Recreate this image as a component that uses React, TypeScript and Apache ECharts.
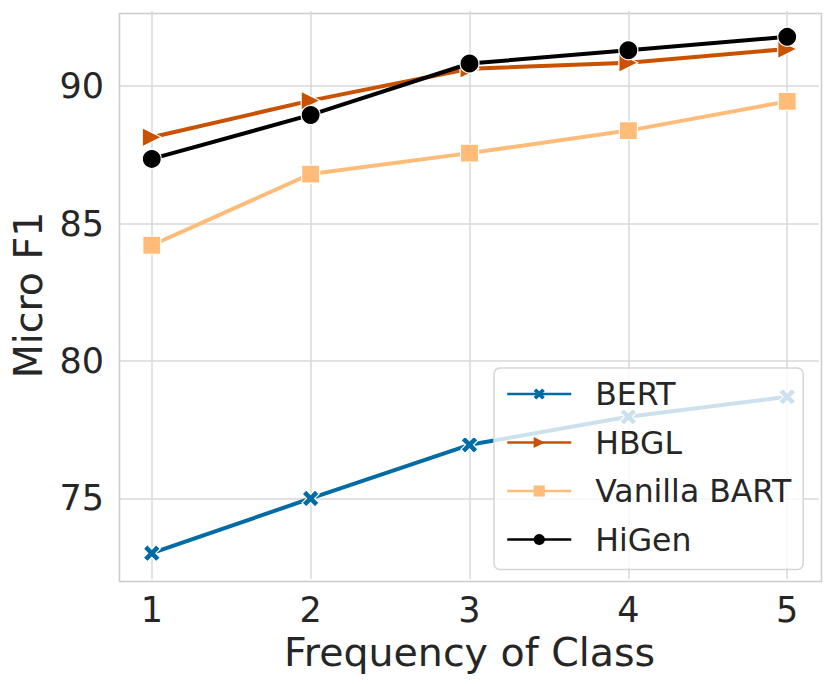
import React, { useEffect, useRef } from "react";
import * as echarts from "echarts";

const xValues = [1, 2, 3, 4, 5];
const xTicks = [1, 2, 3, 4, 5];
const yTicks = [75, 80, 85, 90];
const seriesNames = ["BERT", "HBGL", "Vanilla BART", "HiGen"];
const bert = [73.01, 75.0, 76.95, 77.97, 78.7];
const hbgl = [88.14, 89.47, 90.63, 90.85, 91.35];
const vanillaBart = [84.21, 86.8, 87.56, 88.38, 89.44];
const higen = [87.35, 88.95, 90.82, 91.3, 91.79];

const colors = ["#006BA4", "#C85200", "#FFBC79", "#000000"];
const X_PATH = "path://M0,2.4 L2.4,0 L5,2.6 L7.6,0 L10,2.4 L7.4,5 L10,7.6 L7.6,10 L5,7.4 L2.4,10 L0,7.6 L2.6,5 Z";
const TRI_PATH = "path://M0,0 L10,5 L0,10 Z";
const symbols = [X_PATH, TRI_PATH, "rect", "circle"];
const symbolSizes = [17, 19, 18, 19];
const FONT = "DejaVu Sans";
const TEXT = "#262626";

export default function App() {
  const ref = useRef<HTMLDivElement>(null);
  useEffect(() => {
    if (!ref.current) return;
    const chart = echarts.init(ref.current, undefined, { renderer: "svg" });
    const all = [bert, hbgl, vanillaBart, higen];
    chart.setOption({
      animation: false,
      backgroundColor: "#ffffff",
      grid: { left: 117, right: 11, top: 11, bottom: 105 },
      xAxis: {
        type: "value",
        min: 0.8,
        max: 5.2,
        name: "Frequency of Class",
        nameLocation: "middle",
        nameGap: 52,
        nameTextStyle: { fontFamily: FONT, fontSize: 39.5, color: TEXT },
        axisLine: { show: false },
        axisTick: { show: false, customValues: xTicks },
        axisLabel: {
          customValues: xTicks,
          fontFamily: FONT,
          fontSize: 35,
          color: TEXT,
          margin: 13,
        },
        splitLine: { show: true, lineStyle: { color: "#d9d9d9", width: 1.5 } },
      },
      yAxis: {
        type: "value",
        min: 72.07,
        max: 92.73,
        name: "Micro F1",
        nameLocation: "middle",
        nameGap: 72,
        nameTextStyle: { fontFamily: FONT, fontSize: 39.5, color: TEXT },
        axisLine: { show: false },
        axisTick: { show: false, customValues: yTicks },
        axisLabel: {
          customValues: yTicks,
          fontFamily: FONT,
          fontSize: 35,
          color: TEXT,
          margin: 16,
        },
        splitLine: { show: true, lineStyle: { color: "#d9d9d9", width: 1.5 } },
      },
      legend: {
        orient: "vertical",
        left: 494,
        top: 368,
        padding: [10, 12, 14, 12],
        itemGap: 16.5,
        itemWidth: 64,
        itemHeight: 14,
        backgroundColor: "rgba(255,255,255,0.8)",
        borderColor: "#d5d5d5",
        borderWidth: 1.5,
        borderRadius: 6,
        lineStyle: { width: 2.5 },
        itemStyle: { borderWidth: 0 },
        textStyle: {
          fontFamily: FONT,
          fontSize: 31.5,
          lineHeight: 30,
          color: TEXT,
          padding: [0, 0, 0, 19],
        },
        data: seriesNames,
      },
      graphic: [
        {
          type: "rect",
          left: 117,
          top: 11,
          shape: { width: 702, height: 568 },
          style: { fill: "none", stroke: "#cccccc", lineWidth: 1.5 },
          silent: true,
          z: 0,
        },
      ],
      series: seriesNames.map((name, i) => ({
        name,
        type: "line",
        data: xValues.map((x, j) => [x, all[i][j]]),
        symbol: symbols[i],
        symbolSize: symbolSizes[i],
        symbolKeepAspect: true,
        showAllSymbol: true,
        color: colors[i],
        lineStyle: { width: 4, color: colors[i] },
        itemStyle: { color: colors[i], borderColor: "#ffffff", borderWidth: 1.2 },
        z: 2 + i,
      })),
    });
    return () => chart.dispose();
  }, []);
  return <div ref={ref} style={{ width: 830, height: 684, position: "absolute", left: 0, top: 0 }} />;
}
